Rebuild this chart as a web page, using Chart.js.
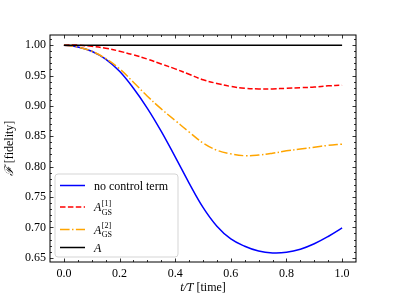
<!DOCTYPE html>
<html>
<head>
<meta charset="utf-8">
<script src="https://cdn.jsdelivr.net/npm/chart.js@4.4.1/dist/chart.umd.min.js"></script>
<style>
html,body{margin:0;padding:0;background:#fff;}
#wrap{width:396px;height:297px;}
</style>
</head>
<body>
<div id="wrap"><canvas id="c" width="396" height="297"></canvas></div>
<script>
// ---- data ----
const tValues   = [0,0.05,0.1,0.15,0.2,0.25,0.3,0.35,0.4,0.45,0.5,0.55,0.6,0.65,0.7,0.75,0.8,0.85,0.9,0.95,1.0];
const noControl = [1.000,0.997,0.990,0.977,0.957,0.929,0.896,0.858,0.816,0.773,0.733,0.702,0.681,0.669,0.661,0.658,0.659,0.664,0.673,0.685,0.699];
const gs1       = [1.000,1.000,0.998,0.995,0.990,0.984,0.977,0.969,0.961,0.952,0.943,0.937,0.932,0.929,0.928,0.928,0.929,0.930,0.931,0.933,0.934];
const gs2       = [1.000,0.997,0.990,0.978,0.961,0.939,0.916,0.895,0.876,0.857,0.839,0.827,0.821,0.818,0.819,0.822,0.826,0.829,0.832,0.835,0.837];
const exact     = [1,1,1,1,1,1,1,1,1,1,1,1,1,1,1,1,1,1,1,1,1];

const xTickValues = [0,0.2,0.4,0.6,0.8,1.0];
const xTickLabels = ['0.0','0.2','0.4','0.6','0.8','1.0'];
const yTickValues = [0.65,0.70,0.75,0.80,0.85,0.90,0.95,1.00];
const yTickLabels = ['0.65','0.70','0.75','0.80','0.85','0.90','0.95','1.00'];
const xMinorStep = 0.05;
const yMinorStep = 0.01;

const seriesNames = ['no control term','A|[1]|GS','A|[2]|GS','A'];
const seriesColors = ['#0000ff','#ff0000','#ffa500','#000000'];
const seriesDash = [[],[5.5,2.4],[9.6,2.4,1.5,2.4],[]];

const SERIF = '"Liberation Serif", "DejaVu Serif", serif';

function pts(arr){ return tValues.map((t,i)=>({x:t,y:arr[i]})); }

const allSeries = [noControl, gs1, gs2, exact];
const datasets = allSeries.map((arr,i)=>({
  label: seriesNames[i],
  data: pts(arr),
  borderColor: seriesColors[i],
  borderWidth: 1.5,
  borderDash: seriesDash[i],
  pointRadius: 0,
  fill: false,
  tension: 0.4,
  order: 4 - i
}));

function drawMath(ctx, x, y, label, size){
  if (label.indexOf('|') < 0 && label !== 'A') {
    ctx.font = size + 'px ' + SERIF;
    ctx.fillText(label, x, y);
    return;
  }
  const parts = label.split('|');
  ctx.font = 'italic ' + size + 'px ' + SERIF;
  ctx.fillText(parts[0], x, y);
  const w = ctx.measureText(parts[0]).width;
  if (parts.length > 1) {
    const s = Math.round(size*0.7);
    ctx.font = s + 'px ' + SERIF;
    ctx.fillText(parts[1], x + w + 0.5, y - size*0.45);
    ctx.fillText(parts[2], x + w + 0.5, y + size*0.3);
  }
}

const decorPlugin = {
  id: 'decor',
  afterDatasetsDraw(chart){
    const ctx = chart.ctx;
    const a = chart.chartArea;
    const xs = chart.scales.x, ys = chart.scales.y;
    ctx.save();
    ctx.strokeStyle = '#000';
    ctx.lineWidth = 1;
    ctx.strokeRect(a.left, a.top, a.right - a.left, a.bottom - a.top);
    ctx.lineWidth = 0.8;
    ctx.beginPath();
    const maj = 3.5, mnr = 2;
    for (let v = Math.ceil(xs.min / xMinorStep) * xMinorStep; v <= xs.max + 1e-9; v += xMinorStep) {
      const px = Math.round(xs.getPixelForValue(v)) + 0.5;
      if (px <= a.left + 1 || px >= a.right - 1) continue;
      const isMaj = xTickValues.some(t => Math.abs(t - v) < 1e-6);
      const L = isMaj ? maj : mnr;
      ctx.moveTo(px, a.bottom); ctx.lineTo(px, a.bottom - L);
      ctx.moveTo(px, a.top); ctx.lineTo(px, a.top + L);
    }
    for (let v = Math.ceil(ys.min / yMinorStep) * yMinorStep; v <= ys.max + 1e-9; v += yMinorStep) {
      const py = Math.round(ys.getPixelForValue(v)) + 0.5;
      if (py <= a.top + 1 || py >= a.bottom - 1) continue;
      const isMaj = yTickValues.some(t => Math.abs(t - v) < 1e-6);
      const L = isMaj ? maj : mnr;
      ctx.moveTo(a.left, py); ctx.lineTo(a.left + L, py);
      ctx.moveTo(a.right, py); ctx.lineTo(a.right - L, py);
    }
    ctx.stroke();

    // legend
    const lx = 55, ly = 174, lw = 123, lh = 83, r = 3;
    ctx.beginPath();
    ctx.moveTo(lx + r, ly);
    ctx.arcTo(lx + lw, ly, lx + lw, ly + lh, r);
    ctx.arcTo(lx + lw, ly + lh, lx, ly + lh, r);
    ctx.arcTo(lx, ly + lh, lx, ly, r);
    ctx.arcTo(lx, ly, lx + lw, ly, r);
    ctx.closePath();
    ctx.fillStyle = 'rgba(255,255,255,0.8)';
    ctx.fill();
    ctx.strokeStyle = '#d5d5d5';
    ctx.lineWidth = 1;
    ctx.stroke();
    const rowY = [185.5, 207, 229.5, 247.5];
    for (let i = 0; i < seriesNames.length; i++) {
      ctx.beginPath();
      ctx.setLineDash(seriesDash[i]);
      ctx.strokeStyle = seriesColors[i];
      ctx.lineWidth = 1.5;
      ctx.moveTo(60, rowY[i]); ctx.lineTo(85, rowY[i]);
      ctx.stroke();
      ctx.setLineDash([]);
      ctx.fillStyle = '#000';
      ctx.textBaseline = 'alphabetic';
      ctx.textAlign = 'left';
      drawMath(ctx, 94, rowY[i] + 4, seriesNames[i], 12);
    }
    ctx.restore();
  },
  afterDraw(chart){
    const ctx = chart.ctx;
    const a = chart.chartArea;
    ctx.save();
    ctx.fillStyle = '#000';
    ctx.textBaseline = 'alphabetic';
    const cx = (a.left + a.right) / 2;
    ctx.font = 'italic 12px ' + SERIF;
    const p1 = 't/T';
    const w1 = ctx.measureText(p1).width;
    ctx.font = '12px ' + SERIF;
    const p2 = ' [time]';
    const w2 = ctx.measureText(p2).width;
    let x0 = cx - (w1 + w2) / 2;
    ctx.font = 'italic 12px ' + SERIF;
    ctx.fillText(p1, x0, 291);
    ctx.font = '12px ' + SERIF;
    ctx.fillText(p2, x0 + w1, 291);
    ctx.translate(13, (a.top + a.bottom) / 2);
    ctx.rotate(-Math.PI / 2);
    ctx.font = 'italic 12px ' + SERIF;
    const q1 = '\u2131';
    const v1 = ctx.measureText(q1).width;
    ctx.font = '12px ' + SERIF;
    const q2 = ' [fidelity]';
    const v2 = ctx.measureText(q2).width;
    x0 = -(v1 + v2) / 2;
    ctx.font = 'italic 12px ' + SERIF;
    ctx.fillText(q1, x0, 0);
    ctx.font = '12px ' + SERIF;
    ctx.fillText(q2, x0 + v1, 0);
    ctx.restore();
  }
};

new Chart(document.getElementById('c'), {
  type: 'line',
  data: { datasets },
  options: {
    responsive: false,
    animation: false,
    devicePixelRatio: 1,
    layout: { padding: { left: 0, top: 35, right: 40, bottom: 0 } },
    plugins: { legend: { display: false }, tooltip: { enabled: false }, title: { display: false } },
    scales: {
      x: {
        type: 'linear',
        min: -0.05, max: 1.05,
        afterFit(s){ s.height = 35; },
        afterBuildTicks(s){ s.ticks = xTickValues.map(v => ({ value: v })); },
        grid: { display: false, drawTicks: false },
        border: { display: false },
        ticks: {
          padding: 5,
          color: '#000',
          font: { family: SERIF, size: 12 },
          maxRotation: 0,
          autoSkip: false,
          callback: (v) => { const i = xTickValues.findIndex(t => Math.abs(t - v) < 1e-6); return i >= 0 ? xTickLabels[i] : ''; }
        }
      },
      y: {
        type: 'linear',
        min: 0.643, max: 1.0167,
        afterFit(s){ s.width = 50; },
        afterBuildTicks(s){ s.ticks = yTickValues.map(v => ({ value: v })); },
        grid: { display: false, drawTicks: false },
        border: { display: false },
        ticks: {
          padding: 4,
          color: '#000',
          font: { family: SERIF, size: 12 },
          autoSkip: false,
          callback: (v) => { const i = yTickValues.findIndex(t => Math.abs(t - v) < 1e-6); return i >= 0 ? yTickLabels[i] : ''; }
        }
      }
    }
  },
  plugins: [decorPlugin]
});
</script>
</body>
</html>
